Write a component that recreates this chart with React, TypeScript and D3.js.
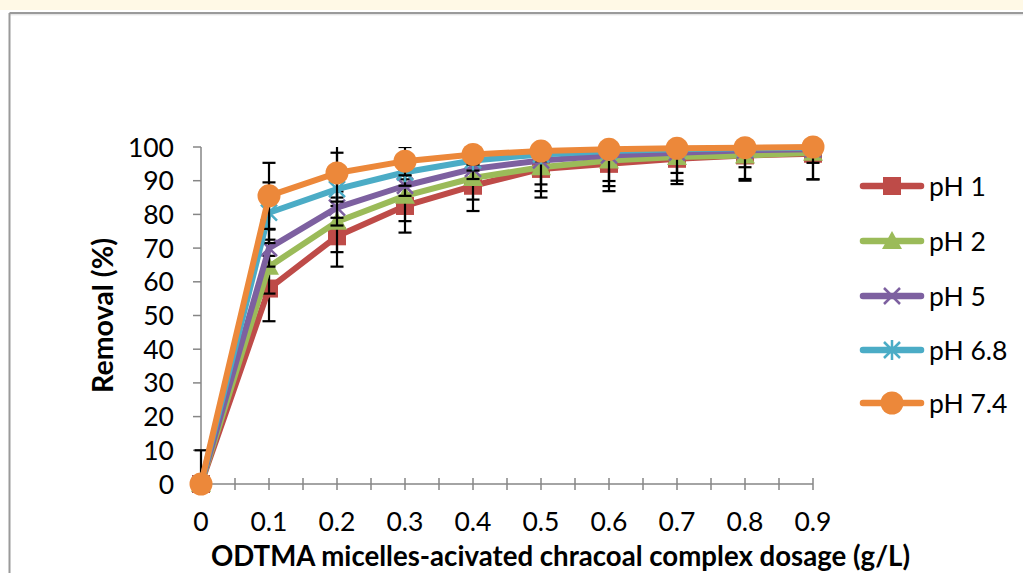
import React from "react";
import * as d3 from "d3";

const dosage = [0, 0.1, 0.2, 0.3, 0.4, 0.5, 0.6, 0.7, 0.8, 0.9];
const seriesNames = ["pH 1", "pH 2", "pH 5", "pH 6.8", "pH 7.4"];
const pH1 = [0, 58, 73.5, 82.5, 88.5, 93.5, 95, 96.5, 97.5, 98];
const pH2 = [0, 64.5, 77.8, 85.5, 90.8, 94, 96, 97, 97.5, 98.3];
const pH5 = [0, 70, 82, 88.5, 93.5, 96, 97.5, 98.3, 99, 99.3];
const pH68 = [0, 80.5, 87.5, 92.5, 96, 97.8, 98.8, 99.3, 99.6, 99.8];
const pH74 = [0, 85.5, 92.3, 95.8, 97.8, 98.8, 99.3, 99.6, 99.8, 100];
const err1 = [10, 9.7, 9, 7.9, 7.5, 8.5, 8.1, 7.5, 7.5, 7.6];
const err2 = [0, 8, 9, 7.5, 6.4, 7.1, 7.6, 7, 7, 7.9];
const err5 = [0, 5.5, 3, 3, 3, 7.1, 7.6, 6, 5, 4];
const err68 = [0, 9, 10.8, 4, 3, 2, 2, 1.5, 1.5, 1];
const err74 = [0, 9.8, 8.5, 4.2, 3, 2, 1.5, 1, 1, 1];
const yTicks = [0, 10, 20, 30, 40, 50, 60, 70, 80, 90, 100];
const xLabels = ["0", "0.1", "0.2", "0.3", "0.4", "0.5", "0.6", "0.7", "0.8", "0.9"];
const xMinorTicks = [0.05, 0.1, 0.15, 0.2, 0.25, 0.3, 0.35, 0.4, 0.45, 0.5, 0.55, 0.6, 0.65, 0.7, 0.75, 0.8, 0.85, 0.9];

const seriesValues = [pH1, pH2, pH5, pH68, pH74];
const seriesErrors = [err1, err2, err5, err68, err74];
const colors = ["#BE4B48", "#9BBB59", "#7D60A0", "#4BACC6", "#EC883A"];
const markerTypes = ["square", "triangle", "x", "star", "circle"];

const FONT = "Lato, 'Open Sans', sans-serif";

function Marker({ type, x, y, color }: { type: string; x: number; y: number; color: string }) {
  if (type === "square") return <rect x={x - 9} y={y - 9} width={18} height={18} fill={color} />;
  if (type === "triangle")
    return <path d={`M${x},${y - 10} L${x + 10},${y + 8} L${x - 10},${y + 8} Z`} fill={color} />;
  if (type === "x")
    return (
      <path d={`M${x - 8},${y - 8} L${x + 8},${y + 8} M${x - 8},${y + 8} L${x + 8},${y - 8}`} stroke={color} strokeWidth={2.5} />
    );
  if (type === "star")
    return (
      <path
        d={`M${x - 8},${y - 8} L${x + 8},${y + 8} M${x - 8},${y + 8} L${x + 8},${y - 8} M${x},${y - 10} L${x},${y + 10}`}
        stroke={color}
        strokeWidth={2.5}
      />
    );
  return <circle cx={x} cy={y} r={11.5} fill={color} />;
}

export default function App() {
  const x = d3.scaleLinear().domain([0, 0.9]).range([201, 813]);
  const y = d3.scaleLinear().domain([0, 100]).range([484, 147]);
  const line = d3
    .line<number>()
    .x((_, i) => x(dosage[i]))
    .y((d) => y(d));
  const legendY = [186, 241, 296, 350, 403];
  const clampY = (v: number) => Math.max(0, Math.min(100, v));

  return (
    <svg
      width={1023}
      height={573}
      style={{ position: "absolute", left: 0, top: 0, background: "#ffffff" }}
      fontFamily={FONT}
    >
      <defs>
        <clipPath id="plotClip">
          <rect x={150} y={y(100)} width={700} height={y(0) - y(100)} />
        </clipPath>
      </defs>
      <rect x={0} y={0} width={1023} height={10} fill="#FFF9E6" />
      <line x1={9.5} y1={13} x2={1023} y2={13} stroke="#9a9a9a" strokeWidth={2} />
      <line x1={9} y1={14.8} x2={1023} y2={14.8} stroke="#dcdcdc" strokeWidth={1} />
      <line x1={9.5} y1={13} x2={9.5} y2={573} stroke="#9a9a9a" strokeWidth={2} />

      {/* Y axis */}
      <line x1={x(0)} y1={y(0)} x2={x(0)} y2={y(100)} stroke="#868686" strokeWidth={1.5} />
      {yTicks.map((t) => (
        <g key={t}>
          <line x1={x(0) - 8} x2={x(0)} y1={y(t)} y2={y(t)} stroke="#868686" strokeWidth={1.5} />
          <text x={174} y={y(t)} dy="0.36em" textAnchor="end" fontSize={26.5} fill="#000">
            {t}
          </text>
        </g>
      ))}
      {/* X axis */}
      <line x1={x(0)} y1={y(0)} x2={x(0.9)} y2={y(0)} stroke="#868686" strokeWidth={1.5} />
      {xMinorTicks.map((t) => (
        <line key={t} x1={x(t)} x2={x(t)} y1={y(0) - 6} y2={y(0) + 6} stroke="#868686" strokeWidth={1.5} />
      ))}
      {dosage.map((d, i) => (
        <text key={d} x={x(d)} y={531} textAnchor="middle" fontSize={26.5} fill="#000">
          {xLabels[i]}
        </text>
      ))}

      {/* Series */}
      {seriesValues.map((vals, si) => (
        <g key={si}>
          <g clipPath="url(#plotClip)">
            {vals.map((v, i) => {
              const e = seriesErrors[si][i];
              if (e <= 0) return null;
              const cx = x(dosage[i]);
              const top = v + e;
              const bot = v - e;
              return (
                <g key={i} stroke="#000" strokeWidth={2.2}>
                  <line x1={cx} x2={cx} y1={y(clampY(top))} y2={y(clampY(bot))} />
                  {top <= 100.3 && <line x1={cx - 6.5} x2={cx + 6.5} y1={y(top)} y2={y(top)} />}
                  {bot >= 0 && <line x1={cx - 6.5} x2={cx + 6.5} y1={y(bot)} y2={y(bot)} />}
                </g>
              );
            })}
          </g>
          <path d={line(vals) || ""} fill="none" stroke={colors[si]} strokeWidth={6} strokeLinejoin="round" />
          {vals.map((v, i) => (
            <Marker key={i} type={markerTypes[si]} x={x(dosage[i])} y={y(v)} color={colors[si]} />
          ))}
        </g>
      ))}

      {/* Legend */}
      {seriesNames.map((name, i) => (
        <g key={name}>
          <line x1={863} x2={921} y1={legendY[i]} y2={legendY[i]} stroke={colors[i]} strokeWidth={6.5} strokeLinecap="round" />
          <Marker type={markerTypes[i]} x={892} y={legendY[i]} color={colors[i]} />
          <text x={929} y={legendY[i]} dy="0.36em" fontSize={26.5} fill="#000">
            {name}
          </text>
        </g>
      ))}

      {/* Axis titles */}
      <text
        transform={`translate(113, ${(y(0) + y(100)) / 2}) rotate(-90)`}
        textAnchor="middle"
        fontSize={28}
        fontWeight="bold"
        fill="#000"
        textLength={155}
        lengthAdjust="spacingAndGlyphs"
      >
        Removal (%)
      </text>
      <text
        x={560.5}
        y={566}
        textAnchor="middle"
        fontSize={28}
        fontWeight="bold"
        fill="#000"
        textLength={699}
        lengthAdjust="spacingAndGlyphs"
      >
        ODTMA micelles-acivated chracoal complex dosage (g/L)
      </text>
    </svg>
  );
}
